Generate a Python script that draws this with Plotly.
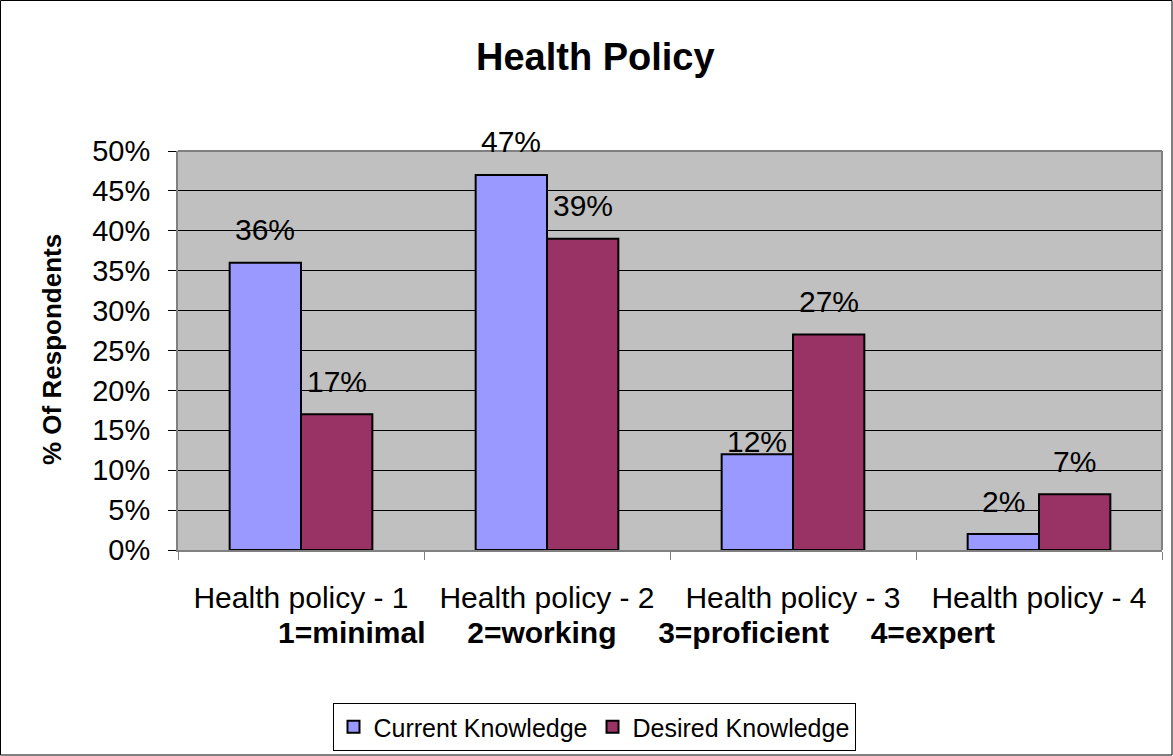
import plotly.graph_objects as go

categories = ["Health policy - 1", "Health policy - 2", "Health policy - 3", "Health policy - 4"]
current = [36, 47, 12, 2]
desired = [17, 39, 27, 7]
series_names = ["Current Knowledge", "Desired Knowledge"]
y_ticks = [0, 5, 10, 15, 20, 25, 30, 35, 40, 45, 50]
y_tick_labels = [f"{v}%" for v in y_ticks]

W, H = 1173, 756
L, R, T, B = 178, 11, 151, 206
pw, ph = W - L - R, H - T - B
BARGAP = 0.42
bar_px = pw / len(categories) * (1 - BARGAP) / 2

FONT = "Liberation Sans, Arial, sans-serif"
COLORS = ["#9999FF", "#993366"]

fig = go.Figure()
for name, vals, col in [(series_names[0], current, COLORS[0]), (series_names[1], desired, COLORS[1])]:
    fig.add_trace(go.Bar(
        name=name, x=categories, y=vals,
        marker=dict(color=col, line=dict(color="black", width=2)),
        cliponaxis=False,
    ))

# data labels placed above the bars (Excel style)
annotations = []
label_shift_default = 33
label_shift_special = {(0, 2): 13}  # (series, category) label sitting close to bar
for si, vals in enumerate([current, desired]):
    for ci, (cat, v) in enumerate(zip(categories, vals)):
        annotations.append(dict(
            x=cat, y=v, xref="x", yref="y", text=f"{v}%", showarrow=False,
            xshift=(-0.5 if si == 0 else 0.5) * bar_px,
            yshift=label_shift_special.get((si, ci), label_shift_default),
            xanchor="center", yanchor="middle",
            font=dict(size=30, family=FONT, color="black"),
        ))

annotations += [
    dict(text="<b>Health Policy</b>", xref="paper", yref="paper",
         x=(595 - L) / pw, y=(H - B - 57) / ph, showarrow=False,
         font=dict(size=38, family=FONT), xanchor="center", yanchor="middle"),
    dict(text="<b>1=minimal     2=working     3=proficient     4=expert</b>", xref="paper", yref="paper",
         x=(636 - L) / pw, y=(H - B - 632) / ph, showarrow=False,
         font=dict(size=30, family=FONT), xanchor="center", yanchor="middle"),
    dict(text="<b>% Of Respondents</b>", xref="paper", yref="paper",
         x=(52 - L) / pw, y=(H - B - 350) / ph, showarrow=False, textangle=-90,
         font=dict(size=26, family=FONT), xanchor="center", yanchor="middle"),
]

fig.update_layout(
    width=W, height=H,
    margin=dict(l=L, r=R, t=T, b=B, autoexpand=False),
    paper_bgcolor="white", plot_bgcolor="#C0C0C0",
    barmode="group", bargap=BARGAP, bargroupgap=0,
    font=dict(family=FONT, size=28, color="black"),
    showlegend=True,
    legend=dict(orientation="h", x=(594 - L) / pw, xanchor="center",
                y=(H - B - 703) / ph, yanchor="top",
                bordercolor="black", borderwidth=1,
                font=dict(size=25, family=FONT), itemsizing="constant",
                traceorder="normal", itemwidth=30),
    xaxis=dict(showgrid=False, ticks="outside", tickson="boundaries", ticklen=8,
               tickcolor="#808080", showline=True, linecolor="#808080", linewidth=2,
               tickfont=dict(size=30), mirror=False, ticklabelstandoff=20),
    yaxis=dict(range=[0, 50], tickvals=y_ticks, ticktext=y_tick_labels,
               showgrid=True, gridcolor="black", gridwidth=1,
               ticks="outside", ticklen=8, tickcolor="black",
               showline=True, linecolor="#808080", linewidth=2,
               tickfont=dict(size=29), zeroline=False, ticklabelstandoff=12),
    shapes=[
        dict(type="rect", xref="paper", yref="paper",
             x0=(0.5 - L) / pw, x1=(W - 1 - L) / pw,
             y0=(H - B - (H - 1)) / ph, y1=(H - B - 0.5) / ph,
             line=dict(color="black", width=1), fillcolor="rgba(0,0,0,0)", layer="below"),
        dict(type="line", xref="paper", yref="paper", x0=0, x1=1, y0=1, y1=1,
             line=dict(color="#808080", width=2)),
        dict(type="line", xref="paper", yref="paper", x0=1, x1=1, y0=0, y1=1,
             line=dict(color="#808080", width=2)),
    ],
    annotations=annotations,
)

fig.write_html("out.html", config={"displayModeBar": False},
               post_script="document.body.style.margin='0';")
